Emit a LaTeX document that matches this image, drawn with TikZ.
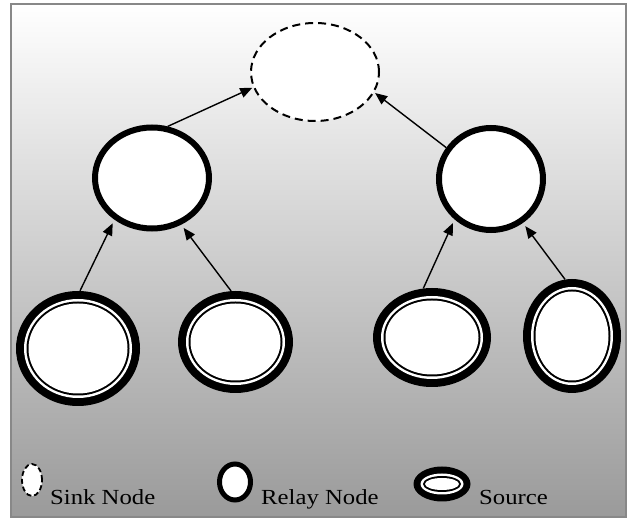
\documentclass[tikz,border=0pt]{standalone}
\usepackage{fontspec}
\setmainfont{Liberation Serif}
\usetikzlibrary{shapes.geometric,arrows.meta}
\definecolor{framegray}{RGB}{136,136,136}
\definecolor{shadebottom}{RGB}{154,154,154}

% Source node: black outer ring, thin white gap, thin black ring, white core.
% #1 name, #2 x, #3 y, #4 outer width, #5 outer height, #6 ring thickness
\newcommand\sourcenode[6]{%
  \node[srcouter, minimum width=#4pt, minimum height=#5pt] (#1) at (#2,#3) {};
  \fill[white] (#1.center) ellipse [x radius=#4/2-#6, y radius=#5/2-#6];
  \fill[black] (#1.center) ellipse [x radius=#4/2-#6-2.5, y radius=#5/2-#6-2.5];
  \fill[white] (#1.center) ellipse [x radius=#4/2-#6-4.5, y radius=#5/2-#6-4.5];
}

\tikzset{
  sinknode/.style={ellipse, draw=black, fill=white, line width=2pt,
    dash pattern=on 8pt off 5pt, inner sep=0pt},
  relaynode/.style={ellipse, draw=black, fill=white, line width=6pt, inner sep=0pt},
  srcouter/.style={ellipse, fill=black, inner sep=0pt},
  arr/.style={-{Triangle[length=12pt,width=10pt]}, line width=1.4pt, black},
  keytext/.style={anchor=base west, inner sep=0pt,
    font=\fontsize{21.5}{24}\selectfont},
}

\begin{document}
\begin{tikzpicture}[x=1pt,y=-1pt]
  \useasboundingbox (0,0) rectangle (630,521);

  % shaded panel with its frame
  \shade[top color=white, bottom color=shadebottom] (11,4) rectangle (626,517);
  \draw[framegray, line width=2pt] (11,4) rectangle (626,517);

  % tree of nodes
  \node[sinknode, minimum width=128pt, minimum height=98pt] (sink) at (315,72) {};
  \node[relaynode, minimum width=114pt, minimum height=101pt] (relayL) at (152,178) {};
  \node[relaynode, minimum width=104pt, minimum height=102pt] (relayR) at (491,179) {};

  \sourcenode{srcLa}{78}{348.5}{124}{115}{8}
  \sourcenode{srcLb}{235.5}{342}{115}{102}{8}
  \sourcenode{srcRa}{432}{337.5}{118}{99}{8}
  \sourcenode{srcRb}{572}{336}{98}{114}{8}

  % connectors
  \draw[arr, shorten >=1pt] (relayL.73) -- (sink.194);
  \draw[arr, shorten >=1pt] (relayR.145) -- (sink.341);
  \draw[arr, shorten >=4pt] (srcLa.88) -- (relayL.228);
  \draw[arr, shorten >=4pt] (srcLb.95) -- (relayL.302);
  \draw[arr, shorten >=4pt] (srcRa.100) -- (relayR.228);
  \draw[arr, shorten >=4pt] (srcRb.97) -- (relayR.306);

  % legend
  \node[sinknode, line width=1.8pt, dash pattern=on 5pt off 3pt,
        minimum width=20pt, minimum height=32pt] (sinkkey) at (32,480) {};
  \node[keytext] (sinklabel) at (50,505) {\scalebox{1.15}[1]{Sink Node}};

  \node[relaynode, line width=5pt, minimum width=31pt, minimum height=36pt] (relaykey) at (235,482) {};
  \node[keytext] (relaylabel) at (261,505) {\scalebox{1.15}[1]{Relay Node}};

  \sourcenode{srckey}{442}{484}{57}{35}{7}
  \node[keytext] (srclabel) at (479,505) {\scalebox{1.15}[1]{Source}};
\end{tikzpicture}
\end{document}
